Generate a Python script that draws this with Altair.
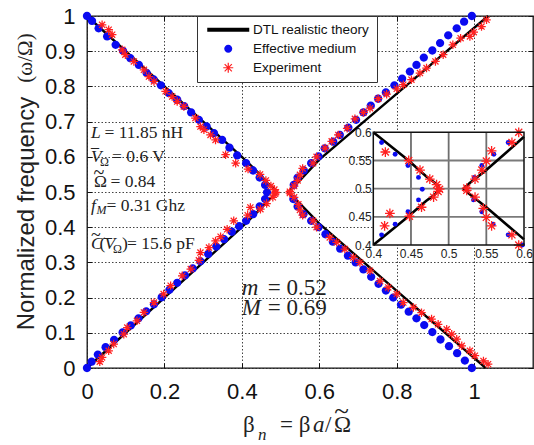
import altair as alt
import pandas as pd

SANS = "Liberation Sans"
SERIF = "Liberation Serif"

series_names = ["DTL realistic theory", "Effective medium", "Experiment"]
series_colors = ["#000000", "#0a0af0", "#ff2020"]

# ---- DTL realistic theory (beta_n, omega/Omega), two branches around the momentum gap
th_left_beta = [0.0, 0.20, 0.40, 0.446, 0.470, 0.482, 0.488, 0.482, 0.470, 0.446, 0.40, 0.20, 0.0]
th_left_omega = [0.0, 0.20, 0.40, 0.450, 0.478, 0.490, 0.500, 0.510, 0.522, 0.551, 0.60, 0.80, 1.0]
th_right_beta = [1.030, 0.800, 0.600, 0.550, 0.528, 0.520, 0.528, 0.550, 0.600, 0.820, 1.036]
th_right_omega = [0.000, 0.219, 0.410, 0.467, 0.490, 0.500, 0.510, 0.533, 0.592, 0.798, 1.000]

# ---- Effective medium
em_ll_beta = [0.0, 0.012, 0.028, 0.048, 0.070, 0.092, 0.113, 0.133, 0.153, 0.173, 0.193, 0.213, 0.233,
              0.253, 0.273, 0.293, 0.313, 0.334, 0.354, 0.374, 0.393, 0.411, 0.429, 0.446, 0.460, 0.465]
em_ll_omega = [0.0, 0.018, 0.038, 0.059, 0.080, 0.101, 0.121, 0.141, 0.161, 0.181, 0.201, 0.222, 0.242,
               0.263, 0.283, 0.303, 0.324, 0.345, 0.366, 0.387, 0.403, 0.418, 0.437, 0.459, 0.480, 0.499]
em_lu_beta = [0.0, 0.013, 0.030, 0.052, 0.074, 0.093, 0.112, 0.134, 0.154, 0.172, 0.191, 0.211, 0.233,
              0.251, 0.269, 0.289, 0.309, 0.328, 0.349, 0.368, 0.388, 0.411, 0.429, 0.446, 0.460]
em_lu_omega = [1.0, 0.986, 0.965, 0.942, 0.918, 0.901, 0.880, 0.861, 0.838, 0.820, 0.803, 0.781, 0.762,
               0.744, 0.726, 0.705, 0.686, 0.667, 0.648, 0.626, 0.604, 0.582, 0.561, 0.541, 0.520]
em_rl_beta = [0.533, 0.544, 0.559, 0.579, 0.598, 0.616, 0.635, 0.654, 0.674, 0.694, 0.714, 0.734, 0.753,
              0.772, 0.791, 0.811, 0.831, 0.851, 0.871, 0.892, 0.913, 0.935, 0.956, 0.976, 0.994]
em_rl_omega = [0.480, 0.459, 0.437, 0.418, 0.400, 0.380, 0.359, 0.339, 0.319, 0.300, 0.280, 0.259, 0.239,
               0.220, 0.200, 0.180, 0.160, 0.141, 0.122, 0.102, 0.081, 0.062, 0.042, 0.021, 0.0]
em_ru_beta = [0.534, 0.544, 0.560, 0.579, 0.598, 0.614, 0.636, 0.653, 0.675, 0.695, 0.714, 0.733, 0.752,
              0.772, 0.794, 0.814, 0.834, 0.851, 0.870, 0.892, 0.912, 0.933, 0.955, 0.974, 0.994]
em_ru_omega = [0.520, 0.541, 0.561, 0.582, 0.601, 0.624, 0.643, 0.662, 0.683, 0.705, 0.726, 0.745, 0.765,
               0.783, 0.803, 0.822, 0.842, 0.861, 0.882, 0.902, 0.923, 0.945, 0.965, 0.984, 1.0]

# ---- Experiment
ex_ll_beta = [0.033, 0.039, 0.056, 0.069, 0.095, 0.104, 0.129, 0.147, 0.173, 0.198, 0.216, 0.246, 0.268,
              0.289, 0.293, 0.315, 0.332, 0.345, 0.362, 0.379, 0.415, 0.422, 0.448, 0.464, 0.480, 0.486, 0.488]
ex_ll_omega = [0.018, 0.030, 0.049, 0.068, 0.096, 0.115, 0.134, 0.158, 0.186, 0.210, 0.234, 0.262, 0.281,
               0.306, 0.328, 0.342, 0.361, 0.373, 0.394, 0.418, 0.434, 0.456, 0.451, 0.467, 0.485, 0.495, 0.499]
ex_lu_beta = [0.039, 0.056, 0.065, 0.091, 0.099, 0.121, 0.147, 0.160, 0.173, 0.203, 0.220, 0.233, 0.250,
              0.280, 0.293, 0.302, 0.319, 0.332, 0.358, 0.384, 0.416, 0.447, 0.462, 0.475, 0.484]
ex_lu_omega = [0.975, 0.961, 0.947, 0.904, 0.890, 0.871, 0.847, 0.828, 0.814, 0.786, 0.771, 0.757, 0.743,
               0.710, 0.686, 0.677, 0.662, 0.648, 0.606, 0.582, 0.565, 0.550, 0.533, 0.517, 0.507]
ex_ru_beta = [0.524, 0.535, 0.544, 0.550, 0.557, 0.584, 0.593, 0.615, 0.632, 0.649, 0.672, 0.692, 0.714,
              0.731, 0.752, 0.774, 0.800, 0.817, 0.838, 0.860, 0.877, 0.900, 0.920, 0.945, 0.965, 0.989,
              0.999, 1.019, 1.032]
ex_ru_omega = [0.501, 0.517, 0.533, 0.549, 0.567, 0.582, 0.600, 0.625, 0.644, 0.662, 0.681, 0.708, 0.726,
               0.738, 0.765, 0.778, 0.793, 0.805, 0.819, 0.838, 0.852, 0.871, 0.890, 0.918, 0.937, 0.942,
               0.954, 0.970, 0.989]
ex_rl_beta = [0.524, 0.535, 0.546, 0.550, 0.557, 0.584, 0.593, 0.627, 0.645, 0.666, 0.688, 0.705, 0.731,
              0.757, 0.778, 0.800, 0.817, 0.843, 0.864, 0.890, 0.907, 0.929, 0.942, 0.955, 0.968, 0.989,
              1.002, 1.024, 1.036]
ex_rl_omega = [0.497, 0.485, 0.465, 0.449, 0.434, 0.418, 0.400, 0.371, 0.357, 0.338, 0.314, 0.300, 0.276,
               0.247, 0.229, 0.210, 0.186, 0.172, 0.157, 0.139, 0.124, 0.110, 0.096, 0.082, 0.063, 0.049,
               0.035, 0.020, 0.011]

# ---- axes
x_domain = [0, 1.152]
y_domain = [0, 1]
x_ticks = [0, 0.2, 0.4, 0.6, 0.8, 1]
y_ticks = [0, 0.1, 0.2, 0.3, 0.4, 0.5, 0.6, 0.7, 0.8, 0.9, 1]
inset_range = [0.4, 0.6]
inset_ticks = [0.4, 0.45, 0.5, 0.55, 0.6]
inset_grid = [0.45, 0.5, 0.55]

W, H = 446, 352
INSET_X_PX = [286.3, 437.0]
INSET_Y_PX = [229.0, 116.3]

# ---- tables
def branch_table(pairs, series):
    rows = []
    for name, (bs, ws) in pairs.items():
        for i, (b, w) in enumerate(zip(bs, ws)):
            rows.append({"beta": b, "omega": w, "branch": name, "idx": i, "series": series})
    return pd.DataFrame(rows)

theory = branch_table({"left": (th_left_beta, th_left_omega),
                       "right": (th_right_beta, th_right_omega)}, series_names[0])
medium = branch_table({"ll": (em_ll_beta, em_ll_omega), "lu": (em_lu_beta, em_lu_omega),
                       "rl": (em_rl_beta, em_rl_omega), "ru": (em_ru_beta, em_ru_omega)}, series_names[1])
experiment = branch_table({"ll": (ex_ll_beta, ex_ll_omega), "lu": (ex_lu_beta, ex_lu_omega),
                           "rl": (ex_rl_beta, ex_rl_omega), "ru": (ex_ru_beta, ex_ru_omega)}, series_names[2])

# marker outlines
STAR = "M-1,0L1,0M0,-1L0,1M-0.72,-0.72L0.72,0.72M-0.72,0.72L0.72,-0.72"
# filled versions used for the legend swatches
BAR = "M-4.2,-0.4L4.2,-0.4L4.2,0.4L-4.2,0.4Z"
DOT = "M-0.8,0A0.8,0.8 0 1,0 0.8,0A0.8,0.8 0 1,0 -0.8,0Z"
STAR_FILLED = ("M-1,-0.12L1,-0.12L1,0.12L-1,0.12Z"
               "M-0.12,-1L0.12,-1L0.12,1L-0.12,1Z"
               "M-0.635,-0.805L0.805,0.635L0.635,0.805L-0.805,-0.635Z"
               "M-0.805,0.635L0.635,-0.805L0.805,-0.635L-0.635,0.805Z")

legend = alt.Legend(
    title=None, orient="none", legendX=110, legendY=0, direction="vertical",
    fillColor="white", strokeColor="#333", padding=7, rowPadding=4,
    labelFont=SANS, labelFontSize=13.5, labelColor="#111", labelLimit=300,
    symbolSize=100, symbolStrokeWidth=0, symbolOpacity=1, symbolOffset=17.5, labelOffset=18,
)
color = alt.Color("series:N", scale=alt.Scale(domain=series_names, range=series_colors), legend=legend)
shape = alt.Shape("series:N", scale=alt.Scale(domain=series_names, range=[BAR, DOT, STAR_FILLED]), legend=legend)

grid_style = dict(grid=True, gridDash=[1.5, 2], gridColor="#222", gridOpacity=0.85, gridWidth=1)
main_x_axis = alt.Axis(values=x_ticks, format="~g", title=None, ticks=False, domain=False,
                       labelFont=SANS, labelFontSize=22, labelColor="#111", labelPadding=13,
                       labelOverlap=False, labelFlush=False, **grid_style)
main_y_axis = alt.Axis(values=y_ticks, format="~g", title="Normalized frequency",
                       titleFont=SANS, titleFontSize=24, titleFontWeight="normal", titleColor="#222",
                       titleX=-61, titleY=197, titleAngle=270, titleAlign="center", titleBaseline="middle",
                       ticks=False, domain=False, labelFont=SANS, labelFontSize=22, labelColor="#111",
                       labelPadding=12, labelOverlap=False, labelFlush=False, **grid_style)
mx = alt.Scale(domain=x_domain, nice=False, zero=False)
my = alt.Scale(domain=y_domain, nice=False, zero=False)


def MX(f="beta"):
    return alt.X(f"{f}:Q", scale=mx, axis=main_x_axis)


def MY(f="omega"):
    return alt.Y(f"{f}:Q", scale=my, axis=main_y_axis)


theory_line = alt.Chart(theory).mark_line(color="black", strokeWidth=2.4).encode(
    x=MX(), y=MY(), detail="branch:N", order="idx:Q")
medium_pts = alt.Chart(medium).mark_point(filled=True, size=108, opacity=1, strokeWidth=0).encode(
    x=MX(), y=MY(), color=color, shape=shape)
exp_pts = alt.Chart(experiment).mark_point(shape=STAR, filled=False, size=72, strokeWidth=1.25,
                                           opacity=1, color=series_colors[2]).encode(x=MX(), y=MY())

# ---- parameter annotations (anchor in data units, on the text baseline)
ann_text = ["L", "= 11.85 nH", "V", "= 0.6 V", "\u03a9", "= 0.84", "f", "= 0.31 Ghz",
            "C", "(", "V", ")", "= 15.6 pF"]
ann_beta = [0.0103, 0.0452, 0.0103, 0.0646, 0.0181, 0.0607, 0.0103, 0.0504,
            0.0103, 0.0323, 0.0452, 0.0904, 0.1033]
ann_omega = [0.653, 0.653, 0.585, 0.585, 0.514, 0.514, 0.447, 0.447,
             0.338, 0.338, 0.338, 0.338, 0.338]
ann_italic = [True, False, True, False, False, False, True, False, True, False, True, False, False]
sub_text = ["\u03a9", "M", "\u03a9"]
sub_beta = [0.0336, 0.0245, 0.0671]
sub_omega = [0.574, 0.4375, 0.327]
sub_italic = [False, True, False]
mod_text = ["m", "= 0.52", "M", "= 0.69"]
mod_beta = [0.3995, 0.467, 0.3995, 0.467]
mod_omega = [0.208, 0.208, 0.1506, 0.1506]
mod_italic = [True, False, True, False]
# accents: bars over V, tildes over Omega and C (centered)
acc_text = ["_", "~", "~", "_"]
acc_beta = [0.0207, 0.0310, 0.0232, 0.0542]
acc_omega = [0.627, 0.537, 0.361, 0.373]
acc_size = [16, 20, 18, 16]


def styled(texts, betas, omegas, italics):
    return pd.DataFrame({"t": texts, "beta": betas, "omega": omegas,
                         "style": ["italic" if i else "normal" for i in italics]})


def text_layer(df, size):
    layers = []
    for st in ["normal", "italic"]:
        part = df[df["style"] == st]
        if len(part):
            layers.append(alt.Chart(part).mark_text(
                align="left", baseline="alphabetic", font=SERIF, fontSize=size, fontStyle=st,
                color="#222").encode(x=MX(), y=MY(), text="t:N"))
    return layers


accent_layers = [
    alt.Chart(pd.DataFrame({"t": [t], "beta": [b], "omega": [w]})).mark_text(
        align="center", baseline="alphabetic", font=SERIF, fontSize=s, color="#222"
    ).encode(x=MX(), y=MY(), text="t:N")
    for t, b, w, s in zip(acc_text, acc_beta, acc_omega, acc_size)
]

# axis title pieces placed in pixels: (text, x, baseline, size, style, align)
xt_text = ["\u03b2", "n", "= \u03b2", "a", "/", "\u03a9", "~", "(\u03c9/\u03a9)"]
xt_x = [156, 171, 193, 226, 238, 247, 254.5, -61]
xt_y = [416, 424, 416, 416, 416, 416, 403.8, 42]
xt_size = [23, 17, 23, 23, 23, 23, 27, 21]
xt_style = ["normal", "italic", "normal", "italic", "normal", "normal", "normal", "normal"]
xt_align = ["left", "left", "left", "left", "left", "left", "center", "center"]
xt_angle = [0, 0, 0, 0, 0, 0, 0, 270]
xt_base = ["alphabetic"] * 7 + ["middle"]
xtitle_layers = [
    alt.Chart(pd.DataFrame({"t": [t]})).mark_text(
        align=al, baseline=bl, font=SERIF, fontSize=s, fontStyle=st, angle=an, color="#222"
    ).encode(x=alt.value(x), y=alt.value(y), text="t:N")
    for t, x, y, s, st, al, an, bl in zip(xt_text, xt_x, xt_y, xt_size, xt_style, xt_align, xt_angle, xt_base)
]

main = alt.layer(theory_line, medium_pts, exp_pts,
                 *text_layer(styled(ann_text, ann_beta, ann_omega, ann_italic), 17.5),
                 *text_layer(styled(sub_text, sub_beta, sub_omega, sub_italic), 12),
                 *text_layer(styled(mod_text, mod_beta, mod_omega, mod_italic), 23),
                 *accent_layers, *xtitle_layers)


# ---- inward tick marks on all four sides of the frame
def tick_axis(orient, values, offset):
    return alt.Axis(orient=orient, offset=offset, values=values, labels=False, domain=False, grid=False,
                    ticks=True, tickSize=5, tickColor="#111", tickWidth=1, title=None)


ticks_bl = alt.Chart(theory).mark_point(opacity=0).encode(
    x=alt.X("beta:Q", scale=mx, axis=tick_axis("top", x_ticks, -H)),
    y=alt.Y("omega:Q", scale=my, axis=tick_axis("right", y_ticks, -W)))
ticks_tr = alt.Chart(theory).mark_point(opacity=0).encode(
    x=alt.X("beta:Q", scale=mx, axis=tick_axis("bottom", x_ticks, -H)),
    y=alt.Y("omega:Q", scale=my, axis=tick_axis("left", y_ticks, -W)))

# ---- zoomed inset around the gap
ix = alt.Scale(domain=inset_range, range=INSET_X_PX, nice=False, zero=False)
iy = alt.Scale(domain=inset_range, range=INSET_Y_PX, nice=False, zero=False)
inset_x_axis = alt.Axis(values=inset_ticks, format="~g", orient="bottom", offset=-(H - INSET_Y_PX[0]),
                        title=None, domain=False, ticks=False, grid=False, labelFont=SANS,
                        labelFontSize=12, labelColor="#222", labelPadding=3, labelOverlap=False,
                        labelFlush=False)
inset_y_axis = alt.Axis(values=inset_ticks, format="~g", orient="left", offset=-INSET_X_PX[0],
                        title=None, domain=False, ticks=False, grid=False, labelFont=SANS,
                        labelFontSize=12, labelColor="#222", labelPadding=2, labelOverlap=False,
                        labelFlush=False)


def IX(f="beta"):
    return alt.X(f"{f}:Q", scale=ix, axis=inset_x_axis)


def IY(f="omega"):
    return alt.Y(f"{f}:Q", scale=iy, axis=inset_y_axis)


in_box = (f"datum.beta >= {inset_range[0]} && datum.beta <= {inset_range[1]} && "
          f"datum.omega >= {inset_range[0]} && datum.omega <= {inset_range[1]}")

frame = pd.DataFrame({"beta": [inset_range[0]], "beta2": [inset_range[1]],
                      "omega": [inset_range[0]], "omega2": [inset_range[1]]})
gridv = pd.DataFrame({"beta": inset_grid, "omega": [inset_range[0]] * 3, "omega2": [inset_range[1]] * 3})
gridh = pd.DataFrame({"omega": inset_grid, "beta": [inset_range[0]] * 3, "beta2": [inset_range[1]] * 3})

inset_bg = alt.Chart(frame).mark_rect(fill="white").encode(
    x=IX(), x2="beta2", y=IY(), y2="omega2")
inset_gv = alt.Chart(gridv).mark_rule(color="#6e6e6e", strokeWidth=1.8).encode(x=IX(), y=IY(), y2="omega2")
inset_gh = alt.Chart(gridh).mark_rule(color="#7a7a7a", strokeWidth=1.8).encode(y=IY(), x=IX(), x2="beta2")
inset_border = alt.Chart(frame).mark_rect(fill=None, stroke="#111", strokeWidth=1.5).encode(
    x=IX(), x2="beta2", y=IY(), y2="omega2")
inset_line = alt.Chart(theory).transform_filter(in_box).mark_line(color="black", strokeWidth=2.6).encode(
    x=IX(), y=IY(), detail="branch:N", order="idx:Q")
inset_medium = alt.Chart(medium).transform_filter(in_box).mark_circle(
    size=24, opacity=1, color=series_colors[1]).encode(x=IX(), y=IY())
inset_exp = alt.Chart(experiment).transform_filter(in_box).mark_point(
    shape=STAR, filled=False, size=95, strokeWidth=1.3, opacity=1, color=series_colors[2]).encode(x=IX(), y=IY())

inset = alt.layer(inset_bg, inset_gv, inset_gh, inset_line, inset_medium, inset_exp, inset_border)

chart = alt.layer(main, ticks_bl, ticks_tr, inset).resolve_scale(x="independent", y="independent").properties(
    width=W, height=H, autosize="none", background="white",
    padding={"left": 87, "top": 16, "right": 1, "bottom": 77},
).configure_view(stroke="#111", strokeWidth=1.3)

chart.save("out.html", embed_options={"renderer": "svg", "actions": False})
